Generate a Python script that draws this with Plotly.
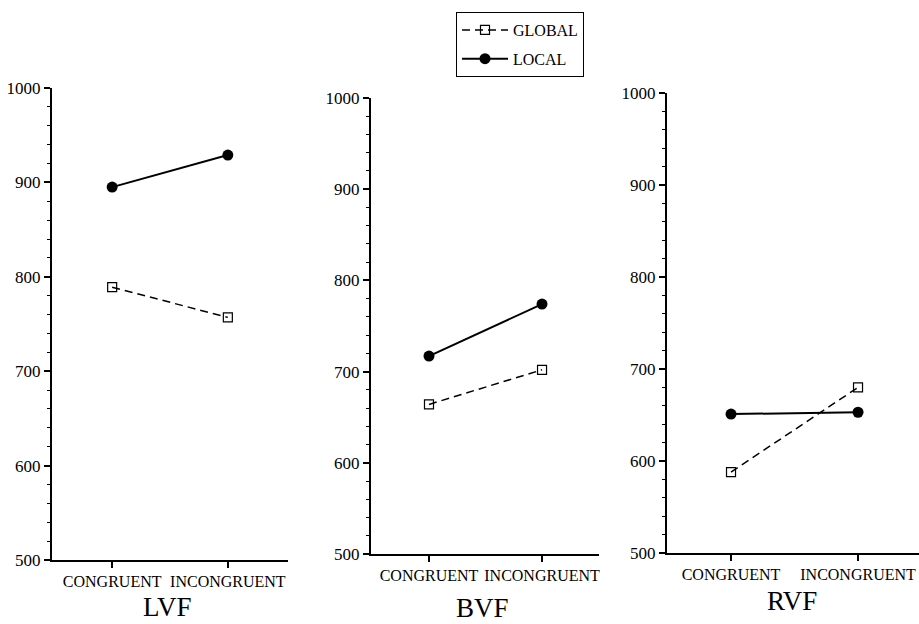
import plotly.graph_objects as go

categories = ["CONGRUENT", "INCONGRUENT"]
panels = ["LVF", "BVF", "RVF"]
global_vals = {
    "LVF": [789, 757],
    "BVF": [664, 702],
    "RVF": [588, 680],
}
local_vals = {
    "LVF": [895, 929],
    "BVF": [717, 774],
    "RVF": [651, 653],
}
y_ticks = [500, 600, 700, 800, 900, 1000]

W, H = 919, 624
# pixel boxes of plotting areas: (left, right, top, bottom)
boxes = {
    "LVF": (52, 288, 88, 560),
    "BVF": (371, 599, 98, 554),
    "RVF": (667, 919, 93, 553),
}
# x range per panel (category positions 0 and 1)
xranges = {
    "LVF": [-0.52, 1.52],
    "BVF": [-0.513, 1.504],
    "RVF": [-0.504, 1.48],
}
title_pos = {
    "LVF": (167, 607),
    "BVF": (482, 608),
    "RVF": (792, 601),
}

FONT = "Liberation Serif, Times New Roman, serif"
fig = go.Figure()
xs = list(range(len(categories)))

for i, p in enumerate(panels):
    n = "" if i == 0 else str(i + 1)
    fig.add_trace(go.Scatter(
        x=xs, y=global_vals[p], mode="lines+markers", name="GLOBAL",
        legendgroup="g", showlegend=(i == 0),
        line=dict(color="black", width=1.5, dash="8px,5px"),
        marker=dict(symbol="square-open", size=9, color="black", line=dict(width=1.2)),
        xaxis="x" + n, yaxis="y" + n,
    ))
    fig.add_trace(go.Scatter(
        x=xs, y=local_vals[p], mode="lines+markers", name="LOCAL",
        legendgroup="l", showlegend=(i == 0),
        line=dict(color="black", width=2),
        marker=dict(symbol="circle", size=11, color="black"),
        xaxis="x" + n, yaxis="y" + n,
    ))
    l, r, t, b = boxes[p]
    axis_common = dict(showline=True, linecolor="black", linewidth=2, showgrid=False,
                       zeroline=False, ticks="outside", tickcolor="black",
                       automargin=False)
    fig.layout["xaxis" + n] = dict(
        domain=[l / W, r / W], range=xranges[p], anchor="y" + n,
        tickvals=xs, ticktext=categories, ticklen=6, tickwidth=1.5,
        tickfont=dict(family=FONT, size=16, color="black"), **axis_common)
    fig.layout["yaxis" + n] = dict(
        domain=[1 - b / H, 1 - t / H], range=[500, 1000], anchor="x" + n,
        tickvals=y_ticks, ticklen=6, tickwidth=1.5,
        tickfont=dict(family=FONT, size=17, color="black"),
        minor=dict(dtick=20, ticklen=3, ticks="outside", tickcolor="black", tickwidth=1),
        **axis_common)
    tx, ty = title_pos[p]
    fig.add_annotation(text=p, x=tx / W, y=1 - ty / H, xref="paper", yref="paper",
                       showarrow=False, xanchor="center", yanchor="middle",
                       font=dict(family=FONT, size=27, color="black"))

fig.update_layout(
    width=W, height=H,
    margin=dict(l=0, r=0, t=0, b=0, autoexpand=False),
    paper_bgcolor="white", plot_bgcolor="white",
    showlegend=True,
    legend=dict(x=456 / W, y=1 - 12 / H, xanchor="left", yanchor="top",
                bordercolor="black", borderwidth=1, bgcolor="white",
                font=dict(family=FONT, size=16, color="black"),
                traceorder="grouped", tracegroupgap=5, itemwidth=46),
)

fig.write_html(
    "out.html",
    config={"displayModeBar": False},
    post_script="document.documentElement.style.margin='0';document.body.style.margin='0';document.body.style.padding='0';",
)
